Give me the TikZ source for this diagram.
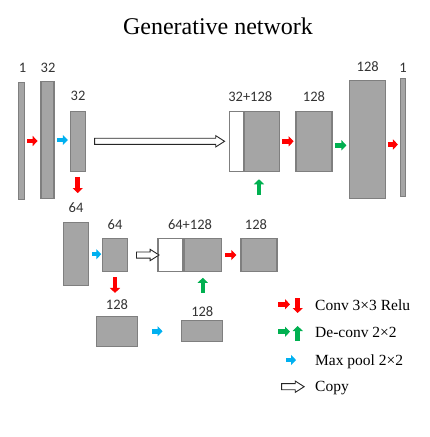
\documentclass[tikz,border=0pt]{standalone}
\usepackage{fontspec}
\setmainfont{Liberation Serif}
\newfontfamily\numfont{Carlito}
\usetikzlibrary{arrows.meta,shapes.arrows,calc,positioning}
\definecolor{convred}{HTML}{FF0000}
\definecolor{deconvgreen}{HTML}{00B050}
\definecolor{poolblue}{HTML}{00B0F0}
\definecolor{blkfill}{HTML}{A5A5A5}
\definecolor{blkedge}{HTML}{7F7F7F}

\begin{document}
\begin{tikzpicture}[x=1pt, y=-1pt,
        block/.style={draw=blkedge, fill=blkfill, line width=1.3pt, inner sep=0pt},
        skip/.style={block, fill=white},
        num/.style={font=\numfont\fontsize{14.5}{14.5}\selectfont, text=black!80, inner sep=0pt},
        arrow/.style={line width=4.5pt, -{Triangle[length=5pt, width=10pt]}},
        conv/.style={arrow, convred},
        deconv/.style={arrow, deconvgreen},
        pool/.style={arrow, poolblue},
        copy/.style={single arrow, draw=black!85, fill=white, line width=0.9pt, inner sep=0pt,
            inner ysep=2.6pt, minimum width=10.5pt, single arrow head extend=2.6pt,
            single arrow tip angle=65},
        legend/.style={font=\fontsize{15.5}{15.5}\selectfont, anchor=base west, inner sep=0pt}
    ]
    \useasboundingbox (0,0) rectangle (429,437);

    % Title
    \node[font=\fontsize{24}{24}\selectfont, anchor=base] (title) at (218,34.3) {Generative network};

    % Contracting path
    \node[block, minimum width=6pt, minimum height=117pt] (in1) at (21.8,141) {};
    \node[block, minimum width=13pt, minimum height=117pt] (e32a) at (47.5,140) {};
    \node[block, minimum width=15pt, minimum height=60pt] (e32b) at (77.7,141.3) {};
    \node[block, minimum width=25pt, minimum height=63pt] (e64a) at (76.2,254.2) {};
    \node[block, minimum width=25pt, minimum height=33pt] (e64b) at (115,255) {};
    \node[block, minimum width=41pt, minimum height=30pt] (e128) at (117.2,331.3) {};
    \node[block, minimum width=41pt, minimum height=21pt] (b128) at (201.7,330.8) {};

    % Expansive path
    \node[skip, minimum width=25pt, minimum height=33pt] (cat2w) at (170.5,255) {};
    \node[block, minimum width=37pt, minimum height=33pt, anchor=west] (cat2g) at (cat2w.east) {};
    \node[block, minimum width=36pt, minimum height=33pt] (d64) at (259,255) {};
    \node[skip, minimum width=14pt, minimum height=60pt] (cat1w) at (236.2,141.3) {};
    \node[block, minimum width=35pt, minimum height=60pt, anchor=west] (cat1g) at (cat1w.east) {};
    \node[block, minimum width=36pt, minimum height=60pt] (d32) at (314,141.3) {};
    \node[block, minimum width=36pt, minimum height=118pt] (d128) at (367.8,139.5) {};
    \node[block, minimum width=5pt, minimum height=118pt] (out1) at (402.8,137.5) {};

    % Channel counts
    \node[num] (n1) at (22.5,68) {1};
    \node[num] (n2) at (48,67.7) {32};
    \node[num] (n3) at (78,95.7) {32};
    \node[num] (n4) at (250.3,96.7) {32+128};
    \node[num] (n5) at (314,96.7) {128};
    \node[num] (n6) at (367.7,66.7) {128};
    \node[num] (n7) at (403,68) {1};
    \node[num] (n8) at (76,207.3) {64};
    \node[num] (n9) at (115,225) {64};
    \node[num] (n10) at (190,225) {64+128};
    \node[num] (n11) at (256,225) {128};
    \node[num] (n12) at (117,304.3) {128};
    \node[num] (n13) at (202.3,311.3) {128};

    % Operations
    \draw[conv, shorten <=2pt, shorten >=2.7pt] (in1.east) -- (in1.east -| e32a.west);
    \draw[pool, shorten <=2.7pt, shorten >=1.7pt] (e32a.east) -- (e32a.east -| e32b.west);
    \node[copy, minimum height=130pt] (cp1) at ($(e32b.east)!0.5!(cat1w.west)$) {};
    \draw[conv, shorten <=5pt, shorten >=29pt] (e32b.south) -- (e32b.south |- e64a.north);
    \draw[pool, shorten <=2.7pt, shorten >=0.6pt] (e64a.east) -- (e64a.east -| e64b.west);
    \node[copy, minimum height=22.5pt] (cp2) at ($(e64b.east)!0.59!(cat2w.west)$) {};
    \draw[conv, shorten <=5pt, shorten >=22.7pt] (e64b.south) -- (e64b.south |- e128.north);
    \draw[pool, shorten <=13.4pt, shorten >=18pt] (e128.east) -- (e128.east -| b128.west);
    \draw[deconv, shorten <=26.7pt, shorten >=5.6pt] (cat2g.south |- b128.north) -- (cat2g.south);
    \draw[conv, shorten <=3.3pt, shorten >=4pt] (cat2g.east) -- (cat2g.east -| d64.west);
    \draw[deconv, shorten <=43.3pt, shorten >=7.3pt] (d64.north) -- (d64.north |- cat1g.south);
    \draw[conv, shorten <=1.7pt, shorten >=1.7pt] (cat1g.east) -- (cat1g.east -| d32.west);
    \draw[deconv, shorten <=2.7pt, shorten >=2.7pt] ([yshift=-4pt]d32.east) -- ([yshift=-4pt]d32.east -| d128.west);
    \draw[conv, shorten <=1.3pt, shorten >=1.7pt] ([yshift=-5pt]d128.east) -- ([yshift=-5pt]d128.east -| out1.west);

    % Legend
    \draw[conv] (278,304.3) -- (290,304.3);
    \draw[conv] (297.7,298) -- (297.7,313);
    \node[legend] (lg1) at (315,310) {Conv 3×3 Relu};
    \draw[deconv] (278,331.7) -- (290,331.7);
    \draw[deconv] (297.7,341) -- (297.7,326);
    \node[legend] (lg2) at (315,337.3) {De-conv 2×2};
    \draw[pool] (286,360) -- (296,360);
    \node[legend] (lg3) at (315,365) {Max pool 2×2};
    \node[copy, minimum height=22.5pt] (lg4a) at (290.5,386.7) {};
    \node[legend] (lg4) at (315,391.7) {Copy};

\end{tikzpicture}
\end{document}
